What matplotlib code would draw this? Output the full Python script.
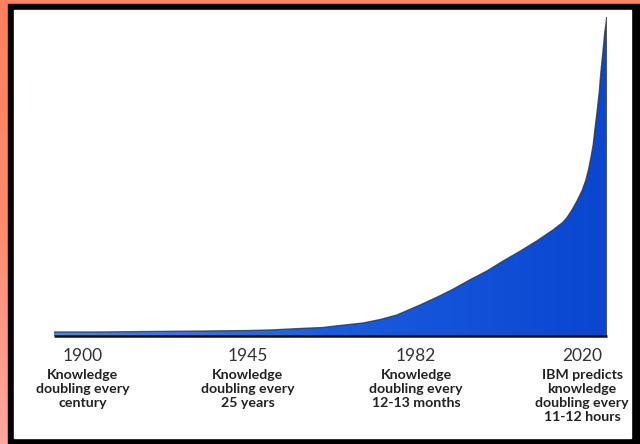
import numpy as np
import matplotlib.pyplot as plt
from matplotlib.patches import Rectangle
from matplotlib.colors import LinearSegmentedColormap

# curve: time fraction (0 = 1900 .. 1 = 2020) vs knowledge (0..100)
t = [0.0, 0.083, 0.174, 0.277, 0.354, 0.391, 0.445, 0.486, 0.517, 0.559,
     0.590, 0.620, 0.662, 0.693, 0.722, 0.752, 0.783, 0.812, 0.843, 0.873,
     0.902, 0.920, 0.928, 0.937, 0.946, 0.955, 0.962, 0.967, 0.971, 0.975,
     0.978, 0.982, 0.986, 0.989, 0.993, 0.996, 1.0]
k = [1.25, 1.25, 1.41, 1.57, 1.72, 1.88, 2.35, 2.66, 3.29, 4.08,
     5.17, 6.58, 9.72, 12.2, 14.7, 17.6, 20.4, 23.5, 26.6, 29.8,
     33.2, 35.6, 37.2, 39.6, 42.4, 45.6, 49.0, 52.5, 56.0, 59.9,
     64.6, 70.2, 76.5, 82.8, 89.7, 95.3, 100.0]

years = ["1900", "1945", "1982", "2020"]
notes = ["Knowledge\ndoubling every\ncentury",
         "Knowledge\ndoubling every\n25 years",
         "Knowledge\ndoubling every\n12-13 months",
         "IBM predicts\nknowledge\ndoubling every\n11-12 hours"]
label_x = [0.052, 0.35, 0.655, 0.955]

W, H = 640, 444
fig = plt.figure(figsize=(W / 100, H / 100), dpi=100)
fig.patch.set_facecolor("#ff8362")

# frame
bg = fig.add_axes([0, 0, 1, 1])
bg.set_xlim(0, W)
bg.set_ylim(H, 0)
bg.axis("off")
side = LinearSegmentedColormap.from_list("o", ["#ff8060", "#ff8a6e", "#ffa89c"])
bg.imshow(np.linspace(0, 1, 100).reshape(-1, 1), extent=[0, 8, H, 0],
          cmap=side, aspect="auto", origin="upper")
bg.set_xlim(0, W)
bg.set_ylim(H, 0)
bg.add_patch(Rectangle((8, 4), W - 8, H, color="black"))
bg.add_patch(Rectangle((14, 10), 631 - 14, 428, color="white"))

# chart
ax = fig.add_axes([54 / W, (H - 336) / H, (607 - 54) / W, (336 - 17) / H])
ax.set_xlim(0, 1)
ax.set_ylim(0, 100)
ax.axis("off")

poly = ax.fill_between(t, 0, k, color="none")
cmap = LinearSegmentedColormap.from_list("b", ["#4a88e8", "#1a5ce0", "#0a46d0"])
grad = np.linspace(0, 1, 256).reshape(1, -1)
img = ax.imshow(grad, extent=[0, 1, 0, 100], aspect="auto", cmap=cmap,
                origin="lower", zorder=1)
img.set_clip_path(poly.get_paths()[0], transform=ax.transData)

ax.plot(t, k, color="#2a3550", lw=1.0, alpha=0.8, zorder=2)
ax.plot([t[-1], t[-1]], [0, k[-1]], color="#555555", lw=1.6, zorder=3)
ax.plot([t[0], t[-1]], [0, 0], color="#111111", lw=1.8, zorder=3,
        solid_capstyle="butt", clip_on=False)

font = ["Lato", "DejaVu Sans"]
for x, yr, note in zip(label_x, years, notes):
    ax.text(x, -0.063, yr, transform=ax.get_xaxis_transform(), ha="center",
            va="center", fontsize=12.5, color="#333333", family=font)
    ax.text(x, -0.105, note, transform=ax.get_xaxis_transform(), ha="center",
            va="top", fontsize=10.2, fontweight="bold", color="#222222",
            family=font, linespacing=1.2)

fig.savefig("out.png", dpi=100, facecolor=fig.get_facecolor())
